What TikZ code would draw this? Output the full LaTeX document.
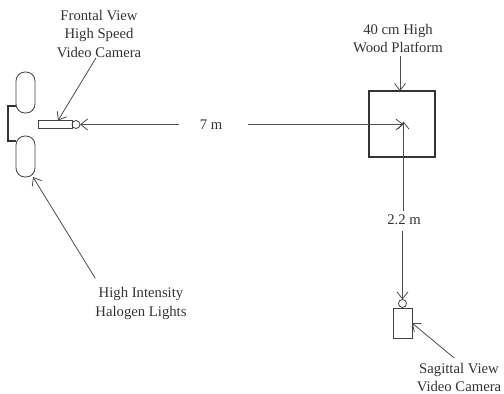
\documentclass[tikz,border=0pt]{standalone}
\usepackage{fontspec}
\setmainfont{Liberation Serif}
\usetikzlibrary{positioning,arrows.meta}

\begin{document}
\begin{tikzpicture}[x=1pt,y=-1pt,font=\fontsize{14.7}{18.5}\selectfont,
  lbl/.style={inner sep=0pt,text=black!80,align=center},
  lamp/.style={draw=black!75,line width=0.8pt,rounded corners=9pt,minimum width=19pt,minimum height=41pt,inner sep=0pt,outer sep=0pt},
  cambody/.style={draw=black!75,line width=0.8pt,inner sep=0pt,outer sep=0pt},
  lens/.style={draw=black!75,line width=0.8pt,circle,minimum size=8pt,inner sep=0pt,outer sep=0pt},
  ptr/.style={black!70,line width=0.8pt,-{Straight Barb[length=7pt,width=11pt]}}]
\useasboundingbox (0,0) rectangle (504,394);
% ===== lights and frontal camera =====
\node[lamp] (lampa) at (25.5,92.5){};
\node[lamp] (lampb) at (25.5,156.5){};
\coordinate (armtop) at (8,106);
\coordinate (armbot) at (8,141);
\draw[black!80,line width=1.3pt] (lampa.west|-armtop)--(armtop)--(armbot)--(lampb.west|-armbot);
\node[cambody,minimum width=34pt,minimum height=8pt] (fcam) at (55,124.5){};
\node[lens] (flens) at (76,124.5){};
% ===== platform =====
\node[draw=black!80,line width=1.4pt,minimum size=66pt,inner sep=0pt,outer sep=0pt] (platform) at (402,124){};
\coordinate (mid) at (403.5,124.5);
% ===== sagittal camera =====
\node[cambody,minimum width=19pt,minimum height=30pt] (scam) at (402.5,323){};
\node[lens] (slens) at (402.5,303.5){};
% ===== labels =====
\node[lbl] (frontal) at (99,34){Frontal View\\High Speed\\Video Camera};
\node[lbl] (wood) at (398,38.5){40 cm High\\Wood Platform};
\node[lbl] (halogen) at (141,303.5){High Intensity\\Halogen Lights};
\node[lbl] (sagittal) at (459,377.5){Sagittal View\\Video Camera};
\node[lbl] (seven) at (211,124.5){7 m};
\node[lbl] (twotwo) at (404,220){2.2 m};
% ===== connectors =====
\draw[ptr] (frontal.south)++(-3,0) -- ([xshift=3pt]fcam.north);
\draw[ptr] ([xshift=-2pt,yshift=-3pt]platform.north|-wood.south) -- ([xshift=-2pt]platform.north);
\draw[ptr] (halogen.north west)++(0,-9) -- ([xshift=-2pt]lampb.south east);
\draw[ptr] (sagittal.north)++(-5,-5) -- (scam.east);
\draw[ptr] (seven.west)++(-21,0) -- (flens.east);
\draw[ptr] (seven.east)++(26,0) -- (mid);
\draw[ptr] (twotwo.north-|mid)++(0,-4) -- ([yshift=3pt]mid);
\draw[ptr] (twotwo.south-|slens)++(0,6) -- (slens.north);
\end{tikzpicture}
\end{document}
